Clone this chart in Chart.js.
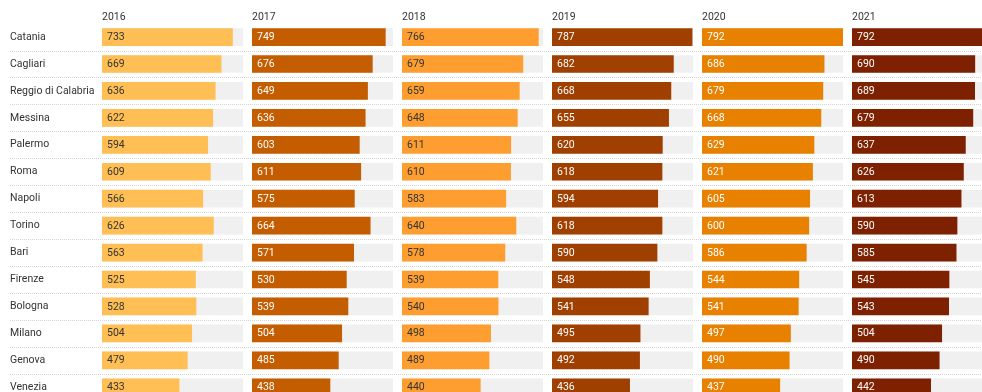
<!DOCTYPE html>
<html>
<head>
<meta charset="utf-8">
<script src="https://cdn.jsdelivr.net/npm/chart.js@4"></script>
<style>
  body { margin: 0; background: #fff; width: 982px; height: 392px; overflow: hidden; position: relative; }
  .panel { position: absolute; top: 0; height: 407px; }
  .panel canvas { display: block; }
</style>
</head>
<body>
<script>
const cities = ["Catania", "Cagliari", "Reggio di Calabria", "Messina", "Palermo", "Roma", "Napoli",
    "Torino", "Bari", "Firenze", "Bologna", "Milano", "Genova", "Venezia"];
const years = ["2016", "2017", "2018", "2019", "2020", "2021"];

const v2016 = [733, 669, 636, 622, 594, 609, 566, 626, 563, 525, 528, 504, 479, 433];
const v2017 = [749, 676, 649, 636, 603, 611, 575, 664, 571, 530, 539, 504, 485, 438];
const v2018 = [766, 679, 659, 648, 611, 610, 583, 640, 578, 539, 540, 498, 489, 440];
const v2019 = [787, 682, 668, 655, 620, 618, 594, 618, 590, 548, 541, 495, 492, 436];
const v2020 = [792, 686, 679, 668, 629, 621, 605, 600, 586, 544, 541, 497, 490, 437];
const v2021 = [792, 690, 689, 679, 637, 626, 613, 590, 585, 545, 543, 504, 490, 442];
const xMax = 792;

const series = [v2016, v2017, v2018, v2019, v2020, v2021];
const barColors = ["#ffbf55", "#c45c00", "#fe9e30", "#9f3f00", "#e88000", "#7e2100"];
const textColors = ["#333333", "#ffffff", "#333333", "#ffffff", "#ffffff", "#ffffff"];

Chart.defaults.font.family = "Roboto, sans-serif";

// dotted lines between rows, across the whole canvas
const separators = {
    id: 'separators',
    beforeDatasetsDraw(chart, args, opts) {
        const ctx = chart.ctx;
        const y = chart.scales.y;
        ctx.save();
        ctx.strokeStyle = '#d4d4d4';
        ctx.lineWidth = 1;
        ctx.setLineDash([1, 1]);
        for (let i = 0; i < cities.length; i++) {
            const yy = Math.round((y.getPixelForValue(i) + y.getPixelForValue(i + 1)) / 2) + 0.5;
            ctx.beginPath();
            ctx.moveTo(opts.from || 0, yy);
            ctx.lineTo(chart.width, yy);
            ctx.stroke();
        }
        ctx.restore();
    }
};

// value printed inside the start of each bar
const valueLabels = {
    id: 'valueLabels',
    afterDatasetsDraw(chart, args, opts) {
        const ctx = chart.ctx;
        const meta = chart.getDatasetMeta(0);
        ctx.save();
        ctx.font = '10.5px Roboto, sans-serif';
        ctx.fillStyle = opts.color;
        ctx.textAlign = 'left';
        ctx.textBaseline = 'middle';
        meta.data.forEach((bar, i) => {
            ctx.fillText(chart.data.datasets[0].data[i], bar.base + 5, bar.y + 0.5);
        });
        ctx.restore();
    }
};

series.forEach((values, i) => {
    const first = i === 0;
    const w = first ? 252 : 150;
    const div = document.createElement('div');
    div.className = 'panel';
    div.style.left = (first ? 0 : 102 + 150 * i) + 'px';
    div.style.width = w + 'px';
    const canvas = document.createElement('canvas');
    canvas.width = w;
    canvas.height = 407;
    canvas.style.width = w + 'px';
    canvas.style.height = '407px';
    div.appendChild(canvas);
    document.body.appendChild(div);

    new Chart(canvas.getContext('2d'), {
        type: 'bar',
        data: {
            labels: cities,
            datasets: [
                {
                    data: values,
                    backgroundColor: barColors[i],
                    barThickness: 17,
                    grouped: false,
                    order: 1
                },
                {
                    data: cities.map(() => xMax),
                    backgroundColor: '#f0f0f0',
                    barThickness: 17,
                    grouped: false,
                    order: 2
                }
            ]
        },
        options: {
            indexAxis: 'y',
            responsive: false,
            animation: false,
            // the label axis of the first panel reserves 6.3px at the bottom, match it on the others
            layout: {padding: {left: first ? 10 : 0, right: 9, top: 0, bottom: first ? 0 : 6.3}},
            plugins: {
                legend: {display: false},
                tooltip: {enabled: false},
                separators: {from: first ? 10 : 0},
                valueLabels: {color: textColors[i]}
            },
            scales: {
                x: {
                    position: 'top',
                    min: 0,
                    max: xMax,
                    grid: {display: false, drawTicks: false},
                    border: {display: false},
                    ticks: {display: false},
                    title: {
                        display: true,
                        text: years[i],
                        align: 'start',
                        color: '#333',
                        font: {size: 10.5},
                        padding: {top: 11, bottom: 0}
                    },
                    afterFit(scale) { scale.height = 23.6; }
                },
                y: {
                    display: first,
                    grid: {display: false, drawTicks: false},
                    border: {display: false},
                    ticks: {crossAlign: 'far', color: '#333', font: {size: 10.5}, padding: 0},
                    afterFit(scale) { if (first) scale.width = 92; }
                }
            }
        },
        plugins: [separators, valueLabels]
    });
});
</script>
</body>
</html>
